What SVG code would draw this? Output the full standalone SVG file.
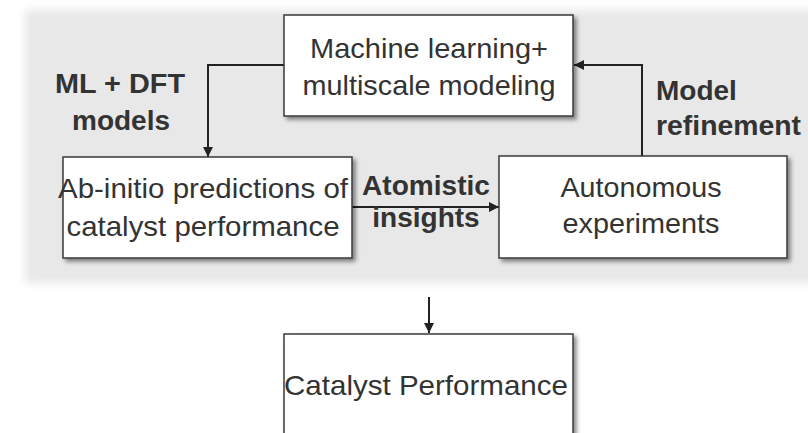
<svg xmlns="http://www.w3.org/2000/svg" width="808" height="433" viewBox="0 0 808 433">
<defs>
<filter id="blur" x="-5%" y="-10%" width="110%" height="120%"><feGaussianBlur stdDeviation="4"/></filter>
<filter id="shadow" x="-5%" y="-10%" width="115%" height="125%"><feDropShadow dx="3" dy="3" stdDeviation="2" flood-color="#000" flood-opacity="0.45"/></filter>
<marker id="arrow" viewBox="0 0 10 10" refX="10" refY="5" markerWidth="10" markerHeight="10" markerUnits="userSpaceOnUse" orient="auto"><path d="M0,0 L10,5 L0,10 z" fill="#222"/></marker>
</defs>
<style>
.box{fill:#fff;stroke:#3a3a3a;stroke-width:1.5;filter:url(#shadow)}
.t{font-family:"Liberation Sans",Arial,sans-serif;font-size:28px;fill:#333;text-anchor:middle}
.b{font-family:"Liberation Sans",Arial,sans-serif;font-size:28px;font-weight:bold;fill:#333}
.c{fill:none;stroke:#222;stroke-width:2;marker-end:url(#arrow)}
</style>
<rect width="808" height="433" fill="#fff"/>
<rect x="25" y="10" width="800" height="273" fill="#e8e8e8" filter="url(#blur)"/>
<g id="connectors">
<path class="c" d="M284,65 H208 V157"/>
<path class="c" d="M642,156 V65 H574"/>
<path class="c" d="M352,207 H499"/>
<path class="c" d="M429,297 V333"/>
</g>
<g id="ml">
<rect class="box" x="284" y="15" width="289" height="101"/>
<text class="t" x="429" y="58" textLength="238" lengthAdjust="spacingAndGlyphs">Machine learning+</text>
<text class="t" x="429" y="95" textLength="253" lengthAdjust="spacingAndGlyphs">multiscale modeling</text>
</g>
<g id="abinitio">
<rect class="box" x="63" y="157" width="289" height="101"/>
<text class="t" x="203" y="198" textLength="290" lengthAdjust="spacingAndGlyphs">Ab-initio predictions of</text>
<text class="t" x="203" y="236" textLength="273" lengthAdjust="spacingAndGlyphs">catalyst performance</text>
</g>
<g id="autonomous">
<rect class="box" x="499" y="156" width="288" height="102"/>
<text class="t" x="641" y="197" textLength="161" lengthAdjust="spacingAndGlyphs">Autonomous</text>
<text class="t" x="641" y="233" textLength="157" lengthAdjust="spacingAndGlyphs">experiments</text>
</g>
<g id="performance">
<rect class="box" x="284" y="334" width="289" height="120"/>
<text class="t" x="426" y="395" textLength="284" lengthAdjust="spacingAndGlyphs">Catalyst Performance</text>
</g>
<g id="labels">
<text class="b" x="120" y="93" text-anchor="middle" textLength="130" lengthAdjust="spacingAndGlyphs">ML + DFT</text>
<text class="b" x="121" y="130" text-anchor="middle">models</text>
<text class="b" x="656" y="100">Model</text>
<text class="b" x="656" y="135" textLength="145" lengthAdjust="spacingAndGlyphs">refinement</text>
<text class="b" x="426" y="195" text-anchor="middle" textLength="128" lengthAdjust="spacingAndGlyphs">Atomistic</text>
<text class="b" x="426" y="227" text-anchor="middle">insights</text>
</g>
</svg>
